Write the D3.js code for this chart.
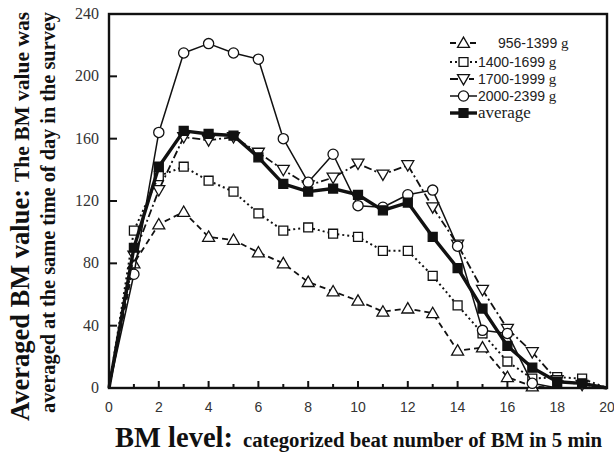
<!DOCTYPE html>
<html>
<head>
<meta charset="utf-8">
<script src="https://cdn.jsdelivr.net/npm/d3@7"></script>
<style>
  body { margin: 0; background: #fff; }
  svg { display: block; }
</style>
</head>
<body>
<div id="chart"></div>
<script>
// BM level 0..20
var levels = d3.range(0, 21);

var seriesNames = ["956-1399", "1400-1699", "1700-1999", "2000-2399", "average"];

var w956 =  [0, 80, 105, 113, 97, 95, 87, 80, 68, 62, 56, 49, 51, 48, 24, 26, 7, 1, 0, 0, 0];
var w1400 = [0, 101, 136, 142, 133, 126, 112, 101, 103, 99, 97, 88, 88, 72, 53, 35, 17, 6, 7, 6, 0];
var w1700 = [0, 85, 127, 161, 159, 161, 151, 140, 130, 135, 144, 137, 143, 116, 92, 63, 38, 23, 5, 2, 0];
var w2000 = [0, 73, 164, 215, 221, 215, 211, 160, 132, 150, 117, 116, 124, 127, 91, 37, 35, 3, 0, 0, 0];
var wAvg =  [0, 90, 142, 165, 163, 162, 148, 131, 126, 128, 124, 114, 119, 97, 77, 51, 27, 13, 4, 3, 0];

var xTicks = [0, 2, 4, 6, 8, 10, 12, 14, 16, 18, 20];
var yTicks = [0, 40, 80, 120, 160, 200, 240];

var W = 614, H = 453;
// plot box (note: "top" is reserved on window, so use a prefix)
var pLeft = 109, pRight = 607, pTop = 14, pBottom = 388;

var svg = d3.select("#chart").append("svg")
  .attr("width", W)
  .attr("height", H);

var x = d3.scaleLinear().domain([0, 20]).range([pLeft, pRight]);
var y = d3.scaleLinear().domain([0, 240]).range([pBottom, pTop]);

// frame
svg.append("rect")
  .attr("x", pLeft).attr("y", pTop)
  .attr("width", pRight - pLeft).attr("height", pBottom - pTop)
  .attr("fill", "none").attr("stroke", "#111").attr("stroke-width", 2.4);

// x ticks, inward, every level (even ones longer)
svg.append("g").selectAll("line")
  .data(d3.range(1, 20))
  .enter().append("line")
  .attr("x1", function(d){ return x(d); })
  .attr("x2", function(d){ return x(d); })
  .attr("y1", pBottom)
  .attr("y2", function(d){ return d % 2 == 0 ? pBottom - 7 : pBottom - 4; })
  .attr("stroke", "#111").attr("stroke-width", 2);

// y ticks, inward
svg.append("g").selectAll("line")
  .data(yTicks.slice(1, -1))
  .enter().append("line")
  .attr("x1", pLeft).attr("x2", pLeft + 8)
  .attr("y1", function(d){ return y(d); })
  .attr("y2", function(d){ return y(d); })
  .attr("stroke", "#111").attr("stroke-width", 2);

svg.append("g").selectAll("text")
  .data(xTicks)
  .enter().append("text")
  .attr("x", function(d){ return x(d); })
  .attr("y", 412)
  .attr("text-anchor", "middle")
  .attr("font-family", "Liberation Sans, Arial, sans-serif")
  .attr("font-size", 14)
  .attr("fill", "#333")
  .text(function(d){ return d; });

svg.append("g").selectAll("text")
  .data(yTicks)
  .enter().append("text")
  .attr("x", 99)
  .attr("y", function(d){ return y(d) + 5; })
  .attr("text-anchor", "end")
  .attr("font-family", "Liberation Serif, Times New Roman, serif")
  .attr("font-size", 16)
  .attr("fill", "#333")
  .text(function(d){ return d; });

// axis titles
var xt = svg.append("g").attr("font-family", "Liberation Serif, Times New Roman, serif")
  .attr("font-weight", "bold").attr("fill", "#111");
xt.append("text").attr("x", 115).attr("y", 447).attr("font-size", 29)
  .attr("textLength", 118).attr("lengthAdjust", "spacingAndGlyphs")
  .text("BM level:");
xt.append("text").attr("x", 243).attr("y", 447).attr("font-size", 20)
  .attr("textLength", 359).attr("lengthAdjust", "spacingAndGlyphs")
  .text("categorized beat number of BM in 5 min");

var yt = svg.append("g").attr("font-family", "Liberation Serif, Times New Roman, serif")
  .attr("font-weight", "bold").attr("fill", "#111");
yt.append("text").attr("transform", "translate(29,421) rotate(-90)").attr("font-size", 28)
  .attr("textLength", 232).attr("lengthAdjust", "spacingAndGlyphs")
  .text("Averaged BM value:");
yt.append("text").attr("transform", "translate(29,182) rotate(-90)").attr("font-size", 20)
  .attr("textLength", 170).attr("lengthAdjust", "spacingAndGlyphs")
  .text("The BM value was");
yt.append("text").attr("transform", "translate(55,413) rotate(-90)").attr("font-size", 20)
  .attr("textLength", 401).attr("lengthAdjust", "spacingAndGlyphs")
  .text("averaged at the same time of day in the survey");

// series styling
var styles = [
  { values: w956,  dash: "6,4",     width: 1.8, shape: "tri",  fill: "#fff" },
  { values: w1400, dash: "2,3",     width: 2,   shape: "sq",   fill: "#fff" },
  { values: w1700, dash: "8,3,2,3", width: 1.8, shape: "itri", fill: "#fff" },
  { values: w2000, dash: null,      width: 1.5, shape: "circ", fill: "#fff" },
  { values: wAvg,  dash: null,      width: 3.4, shape: "sq",   fill: "#111" }
];

function markerPath(shape){
  if(shape == "tri" || shape == "itri") return d3.symbol().type(d3.symbolTriangle).size(62)();
  if(shape == "sq") return d3.symbol().type(d3.symbolSquare).size(80)();
  return d3.symbol().type(d3.symbolCircle).size(82)();
}

function markerTransform(shape, px, py){
  if(shape == "itri") return "translate(" + px + "," + (py - 1) + ") rotate(180)";
  if(shape == "tri") return "translate(" + px + "," + (py + 1) + ")";
  return "translate(" + px + "," + py + ")";
}

var line = d3.line()
  .x(function(d, i){ return x(levels[i]); })
  .y(function(d){ return y(d); });

styles.forEach(function(s){
  var g = svg.append("g");
  g.append("path")
    .attr("d", line(s.values))
    .attr("fill", "none")
    .attr("stroke", "#111")
    .attr("stroke-width", s.width)
    .attr("stroke-dasharray", s.dash)
    .attr("stroke-linejoin", "round");

  // no marker at level 0, and none where the tail is already at zero
  var pts = s.values.map(function(v, i){ return { lv: levels[i], v: v }; })
    .filter(function(p){ return p.lv > 0 && !(p.lv >= 18 && p.v == 0); });

  g.selectAll("path.mk")
    .data(pts)
    .enter().append("path")
    .attr("class", "mk")
    .attr("d", markerPath(s.shape))
    .attr("transform", function(p){ return markerTransform(s.shape, x(p.lv), y(p.v)); })
    .attr("fill", s.fill)
    .attr("stroke", "#111")
    .attr("stroke-width", 1.3);
});

// legend
var legendY = [43, 62, 79, 96, 113];
var lg = svg.append("g");
styles.forEach(function(s, i){
  var ly = legendY[i];
  lg.append("line")
    .attr("x1", 450).attr("x2", 477)
    .attr("y1", ly).attr("y2", ly)
    .attr("stroke", "#111")
    .attr("stroke-width", s.width)
    .attr("stroke-dasharray", s.dash);
  if(s.fill == "#fff"){
    lg.append("rect").attr("x", 458).attr("y", ly - 6).attr("width", 11).attr("height", 12).attr("fill", "#fff");
  }
  lg.append("path")
    .attr("d", markerPath(s.shape))
    .attr("transform", markerTransform(s.shape, 463.5, ly))
    .attr("fill", s.fill).attr("stroke", "#111").attr("stroke-width", 1.3);

  var t = lg.append("text").attr("x", 478).attr("y", ly + 5).attr("fill", "#222");
  if(seriesNames[i] == "average"){
    t.attr("font-family", "Liberation Serif, Times New Roman, serif").attr("font-size", 17)
      .text("average");
  }else{
    t.append("tspan")
      .attr("x", i == 0 ? 498 : 478)
      .attr("font-family", "Liberation Sans, Arial, sans-serif").attr("font-size", 14)
      .text(seriesNames[i]);
    t.append("tspan")
      .attr("font-family", "Liberation Serif, Times New Roman, serif").attr("font-size", 15)
      .text(" g");
  }
});
</script>
</body>
</html>
